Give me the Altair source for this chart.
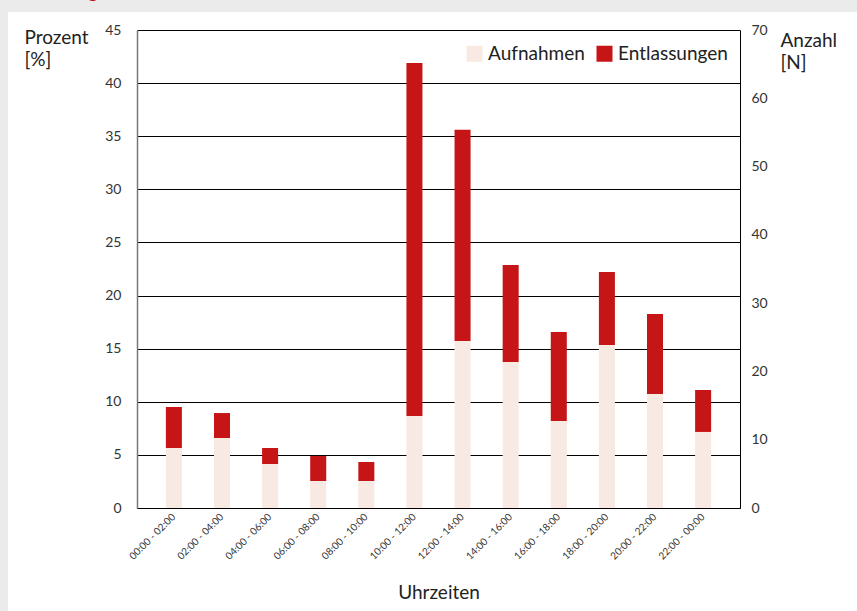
import altair as alt
import pandas as pd

zeiten = ["00:00 - 02:00", "02:00 - 04:00", "04:00 - 06:00", "06:00 - 08:00",
          "08:00 - 10:00", "10:00 - 12:00", "12:00 - 14:00", "14:00 - 16:00",
          "16:00 - 18:00", "18:00 - 20:00", "20:00 - 22:00", "22:00 - 00:00"]
aufnahmen = [5.65, 6.59, 4.14, 2.54, 2.54, 8.66, 15.72, 13.75, 8.19, 15.35, 10.73, 7.16]
entlassungen = [3.86, 2.35, 1.51, 2.36, 1.79, 33.24, 19.88, 9.13, 8.38, 6.87, 7.53, 3.95]
serien = ["Aufnahmen", "Entlassungen"]
farben = ["#f8e9e2", "#c51517"]
prozent_ticks = [0, 5, 10, 15, 20, 25, 30, 35, 40, 45]
anzahl_ticks = [0, 10, 20, 30, 40, 50, 60, 70]

rows = []
for z, a, e in zip(zeiten, aufnahmen, entlassungen):
    rows.append({"Uhrzeit": z, "Serie": "Aufnahmen", "Prozent": a})
    rows.append({"Uhrzeit": z, "Serie": "Entlassungen", "Prozent": e})
df = pd.DataFrame(rows)

FONT = "Lato"
one = pd.DataFrame({"a": [0]})
GRAY = "#ebebeb"

strip_left = alt.Chart(one).mark_rect(color=GRAY).encode(
    x=alt.value(-140), x2=alt.value(-129), y=alt.value(-32), y2=alt.value(585)
)
strip_top = alt.Chart(one).mark_rect(color=GRAY).encode(
    x=alt.value(-140), x2=alt.value(722), y=alt.value(-32), y2=alt.value(-18)
)

redtext = alt.Chart(one).mark_text(
    text="Abbildung", color="#c51517", font=FONT, fontSize=19,
    align="right", baseline="alphabetic"
).encode(x=alt.value(-39), y=alt.value(-32.5))

bars = alt.Chart(df).mark_bar().encode(
    x=alt.X("Uhrzeit:N", sort=zeiten,
            scale=alt.Scale(paddingInner=0.667, paddingOuter=0.6),
            axis=alt.Axis(title="Uhrzeiten", labelAngle=315, labelAlign="right",
                          labelBaseline="middle", labelFontSize=10, labelPadding=7,
                          labelFont=FONT, labelColor="#333", ticks=False,
                          domainColor="#000", domainWidth=1,
                          titleFont=FONT, titleFontSize=19, titleFontWeight="normal",
                          titleColor="#222", titleY=90, titleBaseline="alphabetic")),
    y=alt.Y("Prozent:Q", stack="zero",
            scale=alt.Scale(domain=[0, 45], nice=False),
            axis=alt.Axis(values=prozent_ticks, title=["Prozent", "[%]"], titleAngle=0,
                          titleX=-113, titleY=13, titleAlign="left",
                          titleBaseline="alphabetic", titleLineHeight=22,
                          titleFont=FONT, titleFontSize=19, titleFontWeight="normal",
                          titleColor="#222",
                          labelFont=FONT, labelFontSize=14, labelColor="#333",
                          labelPadding=16, ticks=False,
                          domainColor="#777", domainWidth=1.5,
                          grid=True, gridColor="#000", gridWidth=1)),
    color=alt.Color("Serie:N", sort=serien,
                    scale=alt.Scale(domain=serien, range=farben),
                    legend=alt.Legend(title=None, orient="none", legendX=328, legendY=14,
                                      direction="horizontal", symbolType="square",
                                      symbolSize=256, symbolStrokeWidth=0,
                                      labelFont=FONT, labelFontSize=19, labelColor="#222",
                                      labelOffset=4, columnPadding=10)),
    order=alt.Order("Serie:N", sort="ascending"),
)

right = alt.Chart(one).mark_point(opacity=0).encode(
    y=alt.YDatum(0, type="quantitative",
                 scale=alt.Scale(domain=[0, 70], nice=False),
                 axis=alt.Axis(orient="right", values=anzahl_ticks,
                               title=["Anzahl", "[N]"], titleAngle=0,
                               titleX=40, titleY=16, titleAlign="left",
                               titleBaseline="alphabetic", titleLineHeight=22,
                               titleFont=FONT, titleFontSize=19, titleFontWeight="normal",
                               titleColor="#222",
                               labelFont=FONT, labelFontSize=14, labelColor="#333",
                               labelPadding=11, ticks=False, grid=False,
                               domainColor="#000", domainWidth=1))
)

chart = alt.layer(strip_left, strip_top, redtext, bars, right).resolve_scale(y="independent").properties(
    width=603, height=478,
    autosize=alt.AutoSizeParams(type="none"),
    padding={"left": 137, "top": 30, "right": 117, "bottom": 103},
    background="white",
).configure_view(stroke=None)

chart.save("out.html", embed_options={"renderer": "svg", "actions": False})
